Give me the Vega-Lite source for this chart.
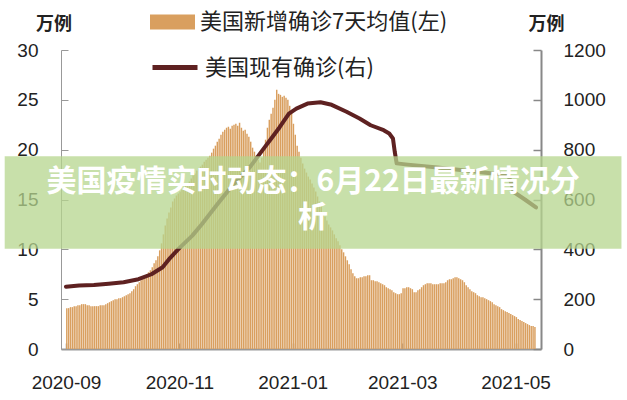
{
"$schema": "https://vega.github.io/schema/vega-lite/v6.json",
"width": 480, "height": 299,
"autosize": {"type": "none"},
"padding": {"left": 61, "top": 50, "right": 86, "bottom": 51},
"background": "white",
"config": {"view": {"stroke": null}, "font": "Liberation Sans, Noto Sans CJK SC, sans-serif", "axis": {"grid": false, "labelColor": "#222", "labelFont": "Liberation Sans, Noto Sans CJK SC, sans-serif"}},
"datasets": {
"bars": [
{"d":"2020-09-01","v":4.1},{"d":"2020-09-02","v":4.1},{"d":"2020-09-03","v":4.2},{"d":"2020-09-04","v":4.2},{"d":"2020-09-05","v":4.3},{"d":"2020-09-06","v":4.3},{"d":"2020-09-07","v":4.4},{"d":"2020-09-08","v":4.4},{"d":"2020-09-09","v":4.5},{"d":"2020-09-10","v":4.5},{"d":"2020-09-11","v":4.5},{"d":"2020-09-12","v":4.4},{"d":"2020-09-13","v":4.4},{"d":"2020-09-14","v":4.3},{"d":"2020-09-15","v":4.3},{"d":"2020-09-16","v":4.3},{"d":"2020-09-17","v":4.3},{"d":"2020-09-18","v":4.3},{"d":"2020-09-19","v":4.4},{"d":"2020-09-20","v":4.4},{"d":"2020-09-21","v":4.4},{"d":"2020-09-22","v":4.5},{"d":"2020-09-23","v":4.6},{"d":"2020-09-24","v":4.7},{"d":"2020-09-25","v":4.8},{"d":"2020-09-26","v":4.9},{"d":"2020-09-27","v":5.0},{"d":"2020-09-28","v":5.0},{"d":"2020-09-29","v":5.1},{"d":"2020-09-30","v":5.1},
{"d":"2020-10-01","v":5.2},{"d":"2020-10-02","v":5.3},{"d":"2020-10-03","v":5.4},{"d":"2020-10-04","v":5.5},{"d":"2020-10-05","v":5.6},{"d":"2020-10-06","v":5.8},{"d":"2020-10-07","v":6.0},{"d":"2020-10-08","v":6.3},{"d":"2020-10-09","v":6.5},{"d":"2020-10-10","v":6.7},{"d":"2020-10-11","v":6.9},{"d":"2020-10-12","v":7.1},{"d":"2020-10-13","v":7.3},{"d":"2020-10-14","v":7.5},{"d":"2020-10-15","v":7.7},{"d":"2020-10-16","v":7.9},{"d":"2020-10-17","v":8.2},{"d":"2020-10-18","v":8.6},{"d":"2020-10-19","v":8.9},{"d":"2020-10-20","v":9.3},{"d":"2020-10-21","v":9.9},{"d":"2020-10-22","v":10.6},{"d":"2020-10-23","v":11.5},{"d":"2020-10-24","v":12.4},{"d":"2020-10-25","v":13.1},{"d":"2020-10-26","v":13.7},{"d":"2020-10-27","v":14.2},{"d":"2020-10-28","v":14.8},{"d":"2020-10-29","v":15.1},{"d":"2020-10-30","v":15.4},{"d":"2020-10-31","v":15.6},
{"d":"2020-11-01","v":15.8},{"d":"2020-11-02","v":16.0},{"d":"2020-11-03","v":16.2},{"d":"2020-11-04","v":16.4},{"d":"2020-11-05","v":16.6},{"d":"2020-11-06","v":16.8},{"d":"2020-11-07","v":17.1},{"d":"2020-11-08","v":17.4},{"d":"2020-11-09","v":17.6},{"d":"2020-11-10","v":17.9},{"d":"2020-11-11","v":18.1},{"d":"2020-11-12","v":18.3},{"d":"2020-11-13","v":18.5},{"d":"2020-11-14","v":18.8},{"d":"2020-11-15","v":19.0},{"d":"2020-11-16","v":19.2},{"d":"2020-11-17","v":19.4},{"d":"2020-11-18","v":19.7},{"d":"2020-11-19","v":20.1},{"d":"2020-11-20","v":20.4},{"d":"2020-11-21","v":20.8},{"d":"2020-11-22","v":21.1},{"d":"2020-11-23","v":21.5},{"d":"2020-11-24","v":21.8},{"d":"2020-11-25","v":22.0},{"d":"2020-11-26","v":22.2},{"d":"2020-11-27","v":22.3},{"d":"2020-11-28","v":22.1},{"d":"2020-11-29","v":22.4},{"d":"2020-11-30","v":22.5},
{"d":"2020-12-01","v":22.6},{"d":"2020-12-02","v":22.4},{"d":"2020-12-03","v":22.7},{"d":"2020-12-04","v":22.2},{"d":"2020-12-05","v":21.9},{"d":"2020-12-06","v":22.0},{"d":"2020-12-07","v":21.6},{"d":"2020-12-08","v":21.3},{"d":"2020-12-09","v":20.8},{"d":"2020-12-10","v":20.2},{"d":"2020-12-11","v":19.8},{"d":"2020-12-12","v":19.4},{"d":"2020-12-13","v":19.0},{"d":"2020-12-14","v":18.7},{"d":"2020-12-15","v":19.2},{"d":"2020-12-16","v":20.0},{"d":"2020-12-17","v":21.0},{"d":"2020-12-18","v":22.2},{"d":"2020-12-19","v":23.0},{"d":"2020-12-20","v":23.6},{"d":"2020-12-21","v":24.2},{"d":"2020-12-22","v":25.0},{"d":"2020-12-23","v":26.0},{"d":"2020-12-24","v":25.6},{"d":"2020-12-25","v":25.5},{"d":"2020-12-26","v":25.3},{"d":"2020-12-27","v":25.4},{"d":"2020-12-28","v":25.2},{"d":"2020-12-29","v":25.0},{"d":"2020-12-30","v":24.4},{"d":"2020-12-31","v":23.7},
{"d":"2021-01-01","v":22.6},{"d":"2021-01-02","v":21.5},{"d":"2021-01-03","v":20.4},{"d":"2021-01-04","v":19.8},{"d":"2021-01-05","v":19.2},{"d":"2021-01-06","v":18.6},{"d":"2021-01-07","v":18.1},{"d":"2021-01-08","v":17.7},{"d":"2021-01-09","v":17.3},{"d":"2021-01-10","v":17.0},{"d":"2021-01-11","v":16.6},{"d":"2021-01-12","v":16.2},{"d":"2021-01-13","v":15.8},{"d":"2021-01-14","v":15.3},{"d":"2021-01-15","v":14.8},{"d":"2021-01-16","v":14.3},{"d":"2021-01-17","v":13.7},{"d":"2021-01-18","v":13.3},{"d":"2021-01-19","v":12.9},{"d":"2021-01-20","v":12.5},{"d":"2021-01-21","v":12.2},{"d":"2021-01-22","v":11.9},{"d":"2021-01-23","v":11.5},{"d":"2021-01-24","v":11.1},{"d":"2021-01-25","v":10.8},{"d":"2021-01-26","v":10.4},{"d":"2021-01-27","v":10.0},{"d":"2021-01-28","v":9.7},{"d":"2021-01-29","v":9.3},{"d":"2021-01-30","v":8.9},{"d":"2021-01-31","v":8.5},
{"d":"2021-02-01","v":8.0},{"d":"2021-02-02","v":7.6},{"d":"2021-02-03","v":7.3},{"d":"2021-02-04","v":7.1},{"d":"2021-02-05","v":7.1},{"d":"2021-02-06","v":7.2},{"d":"2021-02-07","v":7.2},{"d":"2021-02-08","v":7.3},{"d":"2021-02-09","v":7.3},{"d":"2021-02-10","v":7.4},{"d":"2021-02-11","v":7.4},{"d":"2021-02-12","v":6.9},{"d":"2021-02-13","v":6.9},{"d":"2021-02-14","v":6.8},{"d":"2021-02-15","v":6.8},{"d":"2021-02-16","v":6.7},{"d":"2021-02-17","v":6.6},{"d":"2021-02-18","v":6.5},{"d":"2021-02-19","v":6.4},{"d":"2021-02-20","v":6.2},{"d":"2021-02-21","v":6.1},{"d":"2021-02-22","v":6.0},{"d":"2021-02-23","v":5.9},{"d":"2021-02-24","v":5.7},{"d":"2021-02-25","v":5.6},{"d":"2021-02-26","v":5.5},{"d":"2021-02-27","v":5.5},{"d":"2021-02-28","v":5.6},
{"d":"2021-03-01","v":6.1},{"d":"2021-03-02","v":6.1},{"d":"2021-03-03","v":6.2},{"d":"2021-03-04","v":6.2},{"d":"2021-03-05","v":6.1},{"d":"2021-03-06","v":6.0},{"d":"2021-03-07","v":5.7},{"d":"2021-03-08","v":5.7},{"d":"2021-03-09","v":5.9},{"d":"2021-03-10","v":6.0},{"d":"2021-03-11","v":6.2},{"d":"2021-03-12","v":6.4},{"d":"2021-03-13","v":6.5},{"d":"2021-03-14","v":6.6},{"d":"2021-03-15","v":6.6},{"d":"2021-03-16","v":6.6},{"d":"2021-03-17","v":6.5},{"d":"2021-03-18","v":6.5},{"d":"2021-03-19","v":6.5},{"d":"2021-03-20","v":6.5},{"d":"2021-03-21","v":6.6},{"d":"2021-03-22","v":6.6},{"d":"2021-03-23","v":6.6},{"d":"2021-03-24","v":6.7},{"d":"2021-03-25","v":6.9},{"d":"2021-03-26","v":7.0},{"d":"2021-03-27","v":7.0},{"d":"2021-03-28","v":7.1},{"d":"2021-03-29","v":7.2},{"d":"2021-03-30","v":7.2},{"d":"2021-03-31","v":7.1},
{"d":"2021-04-01","v":7.0},{"d":"2021-04-02","v":6.9},{"d":"2021-04-03","v":6.7},{"d":"2021-04-04","v":6.4},{"d":"2021-04-05","v":6.2},{"d":"2021-04-06","v":6.0},{"d":"2021-04-07","v":5.8},{"d":"2021-04-08","v":5.7},{"d":"2021-04-09","v":5.6},{"d":"2021-04-10","v":5.4},{"d":"2021-04-11","v":5.3},{"d":"2021-04-12","v":5.2},{"d":"2021-04-13","v":5.2},{"d":"2021-04-14","v":5.1},{"d":"2021-04-15","v":5.0},{"d":"2021-04-16","v":4.9},{"d":"2021-04-17","v":4.8},{"d":"2021-04-18","v":4.7},{"d":"2021-04-19","v":4.5},{"d":"2021-04-20","v":4.4},{"d":"2021-04-21","v":4.3},{"d":"2021-04-22","v":4.2},{"d":"2021-04-23","v":4.0},{"d":"2021-04-24","v":3.9},{"d":"2021-04-25","v":3.8},{"d":"2021-04-26","v":3.7},{"d":"2021-04-27","v":3.6},{"d":"2021-04-28","v":3.5},{"d":"2021-04-29","v":3.4},{"d":"2021-04-30","v":3.3},
{"d":"2021-05-01","v":3.2},{"d":"2021-05-02","v":3.0},{"d":"2021-05-03","v":2.9},{"d":"2021-05-04","v":2.8},{"d":"2021-05-05","v":2.7},{"d":"2021-05-06","v":2.6},{"d":"2021-05-07","v":2.5},{"d":"2021-05-08","v":2.4},{"d":"2021-05-09","v":2.3},{"d":"2021-05-10","v":2.3},{"d":"2021-05-11","v":2.2}
],
"cur": [
{"d":"2020-09-01","v":250},{"d":"2020-09-08","v":255},{"d":"2020-09-16","v":257},{"d":"2020-09-24","v":262},{"d":"2020-10-02","v":268},{"d":"2020-10-10","v":280},{"d":"2020-10-17","v":300},{"d":"2020-10-23","v":328},{"d":"2020-10-27","v":365},{"d":"2020-11-01","v":405},{"d":"2020-11-08","v":455},{"d":"2020-11-13","v":500},{"d":"2020-11-22","v":586},{"d":"2020-11-30","v":660},{"d":"2020-12-09","v":730},{"d":"2020-12-13","v":770},{"d":"2020-12-17","v":810},{"d":"2020-12-21","v":850},{"d":"2020-12-25","v":890},{"d":"2020-12-30","v":945},{"d":"2021-01-03","v":965},{"d":"2021-01-09","v":985},{"d":"2021-01-16","v":990},{"d":"2021-01-22","v":980},{"d":"2021-01-30","v":952},{"d":"2021-02-06","v":925},{"d":"2021-02-12","v":898},{"d":"2021-02-19","v":878},{"d":"2021-02-22","v":865},{"d":"2021-02-24","v":845},{"d":"2021-02-25","v":790},{"d":"2021-02-26","v":745},{"d":"2021-03-04","v":740},{"d":"2021-03-20","v":728},{"d":"2021-04-05","v":715},{"d":"2021-04-20","v":703},{"d":"2021-04-27","v":698},{"d":"2021-04-29","v":660},{"d":"2021-04-30","v":630},{"d":"2021-05-02","v":620},{"d":"2021-05-06","v":600},{"d":"2021-05-12","v":568}
],
"band": [
{"s":"2020-07-30","e":"2021-06-27","lo":10.05,"hi":19.35,"t":"美国疫情实时动态：6月22日最新情况分\n析","tx":"2021-01-12","ty":16.76}
]
},
"layer": [
{"data": {"name": "bars"},
 "mark": {"type": "bar", "width": 1.45, "xOffset": 0.8},
 "encoding": {
  "x": {"field": "d", "type": "temporal", "title": null,
    "scale": {"type": "utc", "domain": [{"year": 2020, "month": 9, "date": 1, "utc": true}, {"year": 2021, "month": 5, "date": 12, "utc": true}]},
    "axis": {"values": [{"year": 2020, "month": 9, "date": 1, "utc": true}, {"year": 2020, "month": 11, "date": 1, "utc": true}, {"year": 2021, "month": 1, "date": 1, "utc": true}, {"year": 2021, "month": 3, "date": 1, "utc": true}, {"year": 2021, "month": 5, "date": 1, "utc": true}],
      "format": "%Y-%m", "domainColor": "#999", "domainWidth": 2, "tickColor": "#999", "tickWidth": 1.5, "tickSize": -6, "labelFontSize": 19, "labelPadding": 30, "labelFlush": false, "labelOverlap": false}},
  "y": {"field": "v", "type": "quantitative", "title": "万例",
    "scale": {"domain": [0, 30], "nice": false},
    "axis": {"orient": "left", "values": [0, 5, 10, 15, 20, 25, 30], "domainColor": "#999", "domainWidth": 1, "tickColor": "#999", "tickWidth": 1, "tickSize": -7, "labelFontSize": 19, "labelPadding": 30,
      "titleAngle": 0, "titleX": -7.5, "titleY": -26, "titleAlign": "center", "titleBaseline": "middle", "titleFontSize": 18, "titleFontWeight": "bold", "titleFont": "Noto Sans CJK SC", "titleColor": "#222"}},
  "fill": {"datum": "美国新增确诊7天均值(左)", "type": "nominal", "scale": {"range": ["#D99F5F"]},
    "legend": {"orient": "none", "legendX": 89, "legendY": -50.5, "title": null, "symbolType": "M-1,-0.33H1V0.33H-1Z", "symbolSize": 2025, "symbolStrokeWidth": 0, "labelFontSize": 22, "labelFont": "Noto Sans CJK SC", "labelColor": "#222", "labelOffset": 5, "padding": 0, "labelLimit": 400}}
 }},
{"data": {"name": "cur"},
 "mark": {"type": "line", "strokeWidth": 4, "strokeJoin": "round", "strokeCap": "round"},
 "encoding": {
  "x": {"field": "d", "type": "temporal", "title": null},
  "y": {"field": "v", "type": "quantitative", "title": "万例",
    "scale": {"domain": [0, 1200], "nice": false},
    "axis": {"orient": "right", "values": [0, 200, 400, 600, 800, 1000, 1200], "format": "d", "domainColor": "#888", "domainWidth": 2, "tickColor": "#888", "tickWidth": 1.5, "tickSize": -8, "labelFontSize": 19, "labelPadding": 30,
      "titleAngle": 0, "titleX": 5, "titleY": -26, "titleAlign": "center", "titleBaseline": "middle", "titleFontSize": 18, "titleFontWeight": "bold", "titleFont": "Noto Sans CJK SC", "titleColor": "#222"}},
  "stroke": {"datum": "美国现有确诊(右)", "type": "nominal", "scale": {"range": ["#5E2121"]},
    "legend": {"orient": "none", "legendX": 89, "legendY": -7.5, "title": null, "symbolType": "stroke", "symbolSize": 2025, "symbolStrokeWidth": 5, "labelFontSize": 22, "labelFont": "Noto Sans CJK SC", "labelColor": "#222", "labelOffset": 5, "padding": 0, "labelLimit": 400}}
 }},
{"data": {"name": "band"},
 "mark": {"type": "rect", "clip": false, "color": "#B5D68E", "opacity": 0.75},
 "encoding": {
  "x": {"field": "s", "type": "temporal", "title": null},
  "x2": {"field": "e"},
  "y": {"field": "lo", "type": "quantitative", "scale": {"domain": [0, 30], "nice": false}, "axis": null},
  "y2": {"field": "hi"}
 }},
{"data": {"name": "band"},
 "mark": {"type": "text", "clip": false, "font": "Noto Sans CJK SC", "fontWeight": "bold", "fontSize": 30, "color": "white", "align": "center", "baseline": "middle", "lineBreak": "\n", "lineHeight": 36},
 "encoding": {
  "x": {"field": "tx", "type": "temporal", "title": null},
  "y": {"field": "ty", "type": "quantitative", "scale": {"domain": [0, 30], "nice": false}, "axis": null},
  "text": {"field": "t"}
 }}
],
"resolve": {"scale": {"y": "independent", "fill": "independent", "stroke": "independent"}}
}
